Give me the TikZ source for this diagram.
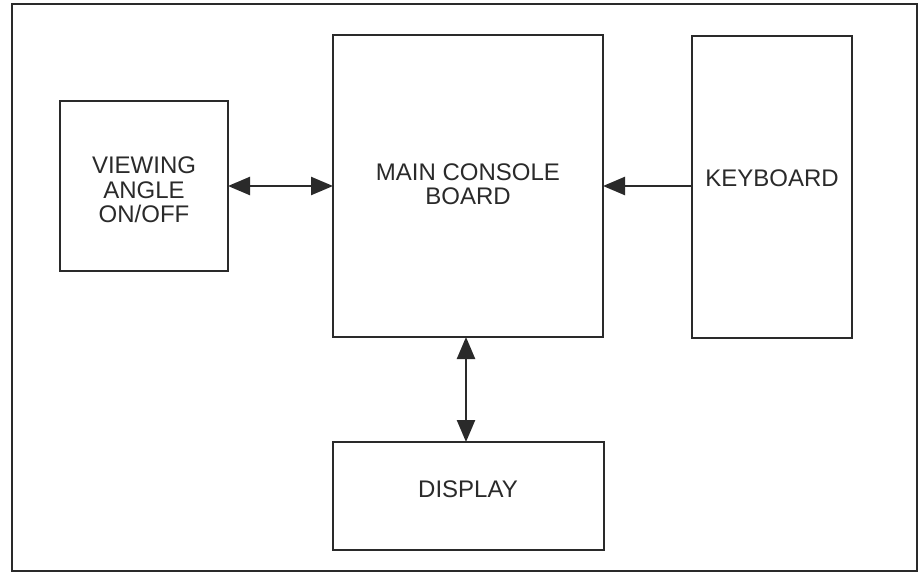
\documentclass[tikz,border=0pt]{standalone}
\usepackage{fontspec}
\setmainfont{Liberation Sans}
\usetikzlibrary{arrows.meta}
\definecolor{ink}{HTML}{2A2A2A}
\begin{document}
\begin{tikzpicture}[x=1pt,y=-1pt,
  >={Triangle[length=22pt,width=18pt]},
  box/.style={draw=ink, line width=1.8pt, inner sep=0pt, outer sep=0pt},
  lbl/.style={font=\fontsize{24}{24.5}\selectfont, align=center, text=ink, inner sep=0pt},
  conn/.style={draw=ink, line width=2.4pt}]
\useasboundingbox (0,0) rectangle (920,573);
\fill[white] (0,0) rectangle (920,573);
\draw[ink, line width=2.4pt] (12,4) rectangle (917,571);

\node[box, minimum width=168pt, minimum height=170pt] (view) at (144,186) {};
\node[box, minimum width=270pt, minimum height=302pt] (main) at (468,186) {};
\node[box, minimum width=160pt, minimum height=302pt] (key) at (772,187) {};
\node[box, minimum width=271pt, minimum height=108pt] (disp) at (468.5,496) {};

\node[lbl] (viewtxt) at (144,190) {VIEWING\\ANGLE\\ON/OFF};
\node[lbl] (maintxt) at (468,184) {MAIN CONSOLE\\BOARD};
\node[lbl] (keytxt) at (772,178) {KEYBOARD};
\node[lbl] (disptxt) at (468,489) {DISPLAY};

\draw[conn,<->] (view.east) -- (main.west);
\draw[conn,->] (key.west |- main.east) -- (main.east);
\draw[conn,<->] ([xshift=-2pt]main.south) -- ([xshift=-2pt]main.south |- disp.north);
\end{tikzpicture}
\end{document}
